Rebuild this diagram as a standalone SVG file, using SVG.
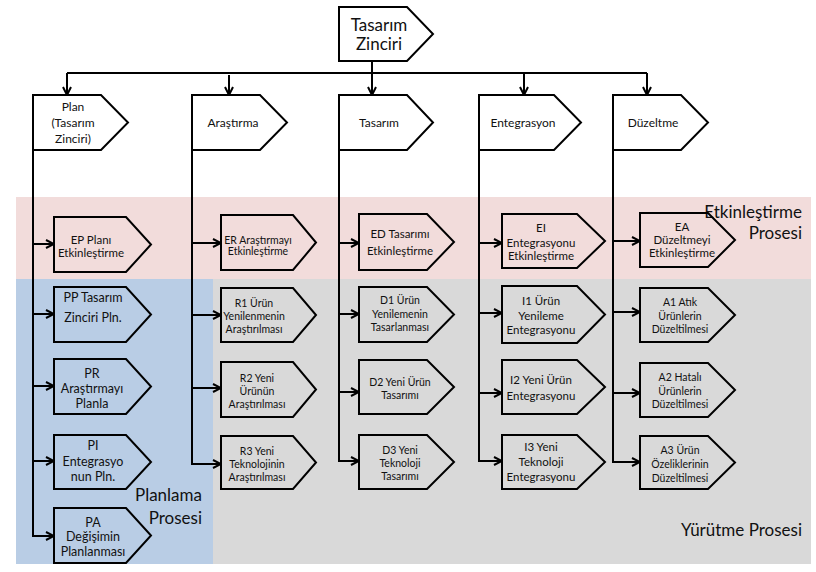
<svg xmlns="http://www.w3.org/2000/svg" width="816" height="572" viewBox="0 0 816 572">
<style>
.n{fill:none;stroke:#000;stroke-width:2;stroke-linejoin:miter}
.c{fill:none;stroke:#000;stroke-width:2}
.a{marker-end:url(#arr)}
text{font-family:Lato,"Liberation Sans",sans-serif;fill:#111;text-anchor:middle}
.s{font-size:10.5px}
.m{font-size:11.5px}
.l{font-size:12.5px}
.h{font-size:12px}
.big{font-size:17px}
.r{text-anchor:end}
</style>
<defs>
<marker id="arr" markerUnits="userSpaceOnUse" viewBox="0 0 10 10" refX="9" refY="5" markerWidth="10" markerHeight="10" orient="auto">
<path d="M1,1 L9,5 L1,9" fill="none" stroke="#000" stroke-width="2"/>
</marker>
</defs>
<g id="backgrounds">
<rect x="16" y="197" width="795" height="82" fill="#F2DCDB"/>
<rect x="16" y="279" width="197" height="285" fill="#B9CDE5"/>
<rect x="213" y="279" width="598" height="285" fill="#D9D9D9"/>
</g>
<g id="region-labels">
<text class="big r" x="802" y="218">Etkinleştirme</text>
<text class="big r" x="802" y="239">Prosesi</text>
<text class="big r" x="202" y="501">Planlama</text>
<text class="big r" x="202" y="524">Prosesi</text>
<text class="big r" x="802" y="536">Yürütme Prosesi</text>
</g>
<g id="connectors">
<path class="c a" d="M372,61 V95"/>
<path class="c" d="M67,73 H647"/>
<path class="c a" d="M67,73 V95"/>
<path class="c a" d="M229,75 V95"/>
<path class="c a" d="M524,73 V95"/>
<path class="c a" d="M647,73 V95"/>
<path class="c a" d="M33,150 V536 H54"/>
<path class="c a" d="M33,244 H54"/>
<path class="c a" d="M33,314 H54"/>
<path class="c a" d="M33,386 H54"/>
<path class="c a" d="M33,461 H54"/>
<path class="c a" d="M192,150 V464 H221"/>
<path class="c a" d="M192,243 H221"/>
<path class="c a" d="M192,315 H221"/>
<path class="c a" d="M192,388 H221"/>
<path class="c a" d="M339,150 V461 H359"/>
<path class="c a" d="M339,243 H359"/>
<path class="c a" d="M339,314 H359"/>
<path class="c a" d="M339,392 H359"/>
<path class="c a" d="M479,150 V461 H502"/>
<path class="c a" d="M479,243 H502"/>
<path class="c a" d="M479,313 H502"/>
<path class="c a" d="M479,393 H502"/>
<path class="c a" d="M613,150 V462 H640"/>
<path class="c a" d="M613,241 H640"/>
<path class="c a" d="M613,312 H640"/>
<path class="c a" d="M613,393 H640"/>
</g>
<g id="tasarim-zinciri">
<path class="n" style="fill:#fff" d="M339,7 H407 L433,34 L407,61 H339 Z"/>
<text class="big" x="379" y="31">Tasarım</text>
<text class="big" x="379" y="50">Zinciri</text>
</g>
<g id="plan">
<path class="n" d="M33,95 H101 L128,122.5 L101,150 H33 Z"/>
<text class="h" x="73" y="111">Plan</text>
<text class="h" x="73" y="127">(Tasarım</text>
<text class="h" x="73" y="143">Zinciri)</text>
</g>
<g id="arastirma">
<path class="n" d="M192,95 H260 L287,122.5 L260,150 H192 Z"/>
<text class="h" x="233" y="127">Araştırma</text>
</g>
<g id="tasarim">
<path class="n" d="M339,95 H407 L433,122.5 L407,150 H339 Z"/>
<text class="h" x="379" y="127">Tasarım</text>
</g>
<g id="entegrasyon">
<path class="n" d="M479,95 H554 L581,122.5 L554,150 H479 Z"/>
<text class="h" x="523" y="127">Entegrasyon</text>
</g>
<g id="duzeltme">
<path class="n" d="M613,95 H681 L708,122.5 L681,150 H613 Z"/>
<text class="h" x="653" y="127">Düzeltme</text>
</g>
<g id="EP">
<path class="n" d="M54,217 H126 L151,244.5 L126,272 H54 Z"/>
<text class="m" x="91" y="244">EP Planı</text>
<text class="m" x="91" y="257">Etkinleştirme</text>
</g>
<g id="PP">
<path class="n" d="M54,287 H126 L151,314.5 L126,342 H54 Z"/>
<text class="l" x="93" y="302">PP Tasarım</text>
<text class="l" x="93" y="322">Zinciri Pln.</text>
</g>
<g id="PR">
<path class="n" d="M54,359 H126 L151,386.5 L126,414 H54 Z"/>
<text class="l" x="92" y="378">PR</text>
<text class="l" x="92" y="393">Araştırmayı</text>
<text class="l" x="92" y="408">Planla</text>
</g>
<g id="PI">
<path class="n" d="M54,435 H126 L151,462 L126,489 H54 Z"/>
<text class="l" x="93" y="450">PI</text>
<text class="l" x="93" y="466">Entegrasyo</text>
<text class="l" x="93" y="481">nun Pln.</text>
</g>
<g id="PA">
<path class="n" d="M54,508 H126 L151,535.5 L126,563 H54 Z"/>
<text class="l" x="93" y="527">PA</text>
<text class="l" x="93" y="541">Değişimin</text>
<text class="l" x="93" y="556">Planlanması</text>
</g>
<g id="ER">
<path class="n" d="M221,215 H293 L316,242.5 L293,270 H221 Z"/>
<text class="s" x="258" y="244">ER Araştırmayı</text>
<text class="s" x="258" y="255">Etkinleştirme</text>
</g>
<g id="R1">
<path class="n" d="M221,288 H293 L316,315 L293,342 H221 Z"/>
<text class="s" x="254" y="307">R1 Ürün</text>
<text class="s" x="254" y="320">Yenilenmenin</text>
<text class="s" x="254" y="333">Araştırılması</text>
</g>
<g id="R2">
<path class="n" d="M221,362 H293 L316,389.5 L293,417 H221 Z"/>
<text class="s" x="257" y="382">R2 Yeni</text>
<text class="s" x="257" y="395">Ürünün</text>
<text class="s" x="257" y="408">Araştırılması</text>
</g>
<g id="R3">
<path class="n" d="M221,436 H293 L316,462.5 L293,489 H221 Z"/>
<text class="s" x="257" y="455">R3 Yeni</text>
<text class="s" x="257" y="468">Teknolojinin</text>
<text class="s" x="257" y="481">Araştırılması</text>
</g>
<g id="ED">
<path class="n" d="M359,214 H427 L454,242 L427,270 H359 Z"/>
<text class="m" x="400" y="238">ED Tasarımı</text>
<text class="m" x="400" y="255">Etkinleştirme</text>
</g>
<g id="D1">
<path class="n" d="M359,287 H427 L454,314.5 L427,342 H359 Z"/>
<text class="s" x="400" y="304">D1 Ürün</text>
<text class="s" x="400" y="318">Yenilemenin</text>
<text class="s" x="400" y="331">Tasarlanması</text>
</g>
<g id="D2">
<path class="n" d="M359,360 H427 L454,387 L427,414 H359 Z"/>
<text class="s" x="400" y="386">D2 Yeni Ürün</text>
<text class="s" x="400" y="399">Tasarımı</text>
</g>
<g id="D3">
<path class="n" d="M359,435 H427 L454,462 L427,489 H359 Z"/>
<text class="s" x="400" y="454">D3 Yeni</text>
<text class="s" x="400" y="467">Teknoloji</text>
<text class="s" x="400" y="480">Tasarımı</text>
</g>
<g id="EI">
<path class="n" d="M502,214 H577 L605,241 L577,268 H502 Z"/>
<text class="m" x="541" y="232">EI</text>
<text class="m" x="541" y="247">Entegrasyonu</text>
<text class="m" x="541" y="260">Etkinleştirme</text>
</g>
<g id="I1">
<path class="n" d="M502,286 H577 L605,314.5 L577,343 H502 Z"/>
<text class="m" x="541" y="305">I1 Ürün</text>
<text class="m" x="541" y="320">Yenileme</text>
<text class="m" x="541" y="334">Entegrasyonu</text>
</g>
<g id="I2">
<path class="n" d="M502,360 H577 L605,387 L577,414 H502 Z"/>
<text class="m" x="541" y="384">I2 Yeni Ürün</text>
<text class="m" x="541" y="400">Entegrasyonu</text>
</g>
<g id="I3">
<path class="n" d="M502,435 H577 L605,462 L577,489 H502 Z"/>
<text class="m" x="541" y="451">I3 Yeni</text>
<text class="m" x="541" y="466">Teknoloji</text>
<text class="m" x="541" y="481">Entegrasyonu</text>
</g>
<g id="EA">
<path class="n" d="M640,213 H708 L735,240 L708,267 H640 Z"/>
<text class="m" x="682" y="231">EA</text>
<text class="m" x="682" y="244">Düzeltmeyi</text>
<text class="m" x="682" y="257">Etkinleştirme</text>
</g>
<g id="A1">
<path class="n" d="M640,288 H708 L735,315 L708,342 H640 Z"/>
<text class="s" x="680" y="306">A1 Atık</text>
<text class="s" x="680" y="320">Ürünlerin</text>
<text class="s" x="680" y="333">Düzeltilmesi</text>
</g>
<g id="A2">
<path class="n" d="M640,363 H708 L735,390 L708,417 H640 Z"/>
<text class="s" x="680" y="381">A2 Hatalı</text>
<text class="s" x="680" y="395">Ürünlerin</text>
<text class="s" x="680" y="408">Düzeltilmesi</text>
</g>
<g id="A3">
<path class="n" d="M640,436 H708 L735,462.5 L708,489 H640 Z"/>
<text class="s" x="680" y="454">A3 Ürün</text>
<text class="s" x="680" y="468">Özeliklerinin</text>
<text class="s" x="680" y="482">Düzeltilmesi</text>
</g>
</svg>
